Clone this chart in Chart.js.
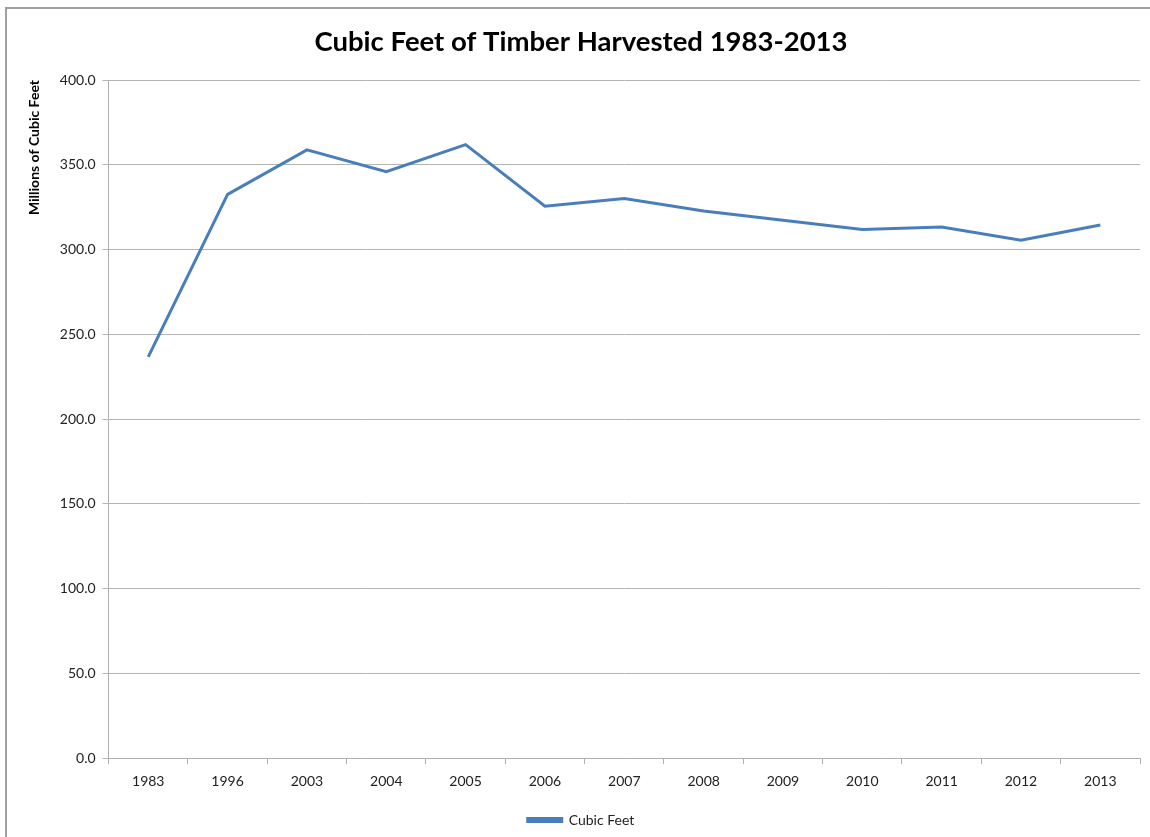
<!DOCTYPE html>
<html>
<head>
<meta charset="utf-8">
<script src="https://cdn.jsdelivr.net/npm/chart.js@4/dist/chart.umd.min.js"></script>
<style>
  html, body { margin: 0; padding: 0; background: #fff; }
  #wrap { width: 1150px; height: 837px; position: relative; }
</style>
</head>
<body>
<div id="wrap"><canvas id="myChart" width="1150" height="837"></canvas></div>
<script>
let years = ["1983", "1996", "2003", "2004", "2005", "2006", "2007", "2008", "2009", "2010", "2011", "2012", "2013"];
let cubicFeet = [236.7, 332.5, 358.8, 345.9, 361.9, 325.6, 330.1, 322.7, 317.3, 311.8, 313.3, 305.5, 314.5];
let yTicks = [0, 50, 100, 150, 200, 250, 300, 350, 400];

let font = "Lato, 'Open Sans', sans-serif";

// thin frame round the chart, like the spreadsheet export
let frame = {
  id: "frame",
  beforeDraw(chart) {
    let c = chart.ctx;
    c.save();
    c.strokeStyle = "#a0a0a0";
    c.lineWidth = 2;
    c.beginPath();
    c.moveTo(6, chart.height);
    c.lineTo(6, 8);
    c.lineTo(chart.width, 8);
    c.stroke();
    c.restore();
  },
};

// Chart
let canvas = document.getElementById("myChart");
let ctx = canvas.getContext("2d");
let chart = new Chart(ctx, {
  type: "line",
  data: {
    labels: years,
    datasets: [
      {
        label: "Cubic Feet",
        data: cubicFeet,
        borderColor: "#4a7ebb",
        backgroundColor: "#4a7ebb",
        borderWidth: 3,
        pointRadius: 0,
        tension: 0,
      },
    ],
  },
  options: {
    responsive: false,
    animation: false,
    layout: { padding: { top: 8, right: 10, left: 22, bottom: 0 } },
    plugins: {
      title: {
        display: true,
        text: "Cubic Feet of Timber Harvested 1983-2013",
        color: "#000",
        font: { family: font, size: 27.5, weight: "bold" },
        padding: { top: 18, bottom: 21 },
      },
      legend: {
        position: "bottom",
        labels: {
          color: "#222",
          font: { family: font, size: 14 },
          boxWidth: 34,
          boxHeight: 3,
          padding: 14,
        },
      },
      tooltip: { enabled: false },
    },
    scales: {
      x: {
        offset: true,
        grid: { offset: true, drawOnChartArea: false, color: "#b0b0b0", tickLength: 6 },
        border: { color: "#b0b0b0" },
        ticks: { color: "#222", font: { family: font, size: 14 }, padding: 9, maxRotation: 0 },
      },
      y: {
        min: 0,
        max: 400,
        afterBuildTicks: (axis) => { axis.ticks = yTicks.map((v) => ({ value: v })); },
        grid: { color: "#b4b4b4", tickLength: 6 },
        border: { color: "#b0b0b0" },
        ticks: {
          color: "#222",
          font: { family: font, size: 14 },
          padding: 7,
          callback: (v) => v.toFixed(1),
        },
        title: {
          display: true,
          text: "Millions of Cubic Feet",
          align: "end",
          color: "#000",
          font: { family: font, size: 14, weight: "bold" },
          padding: { bottom: 10 },
        },
      },
    },
  },
  plugins: [frame],
});
</script>
</body>
</html>
